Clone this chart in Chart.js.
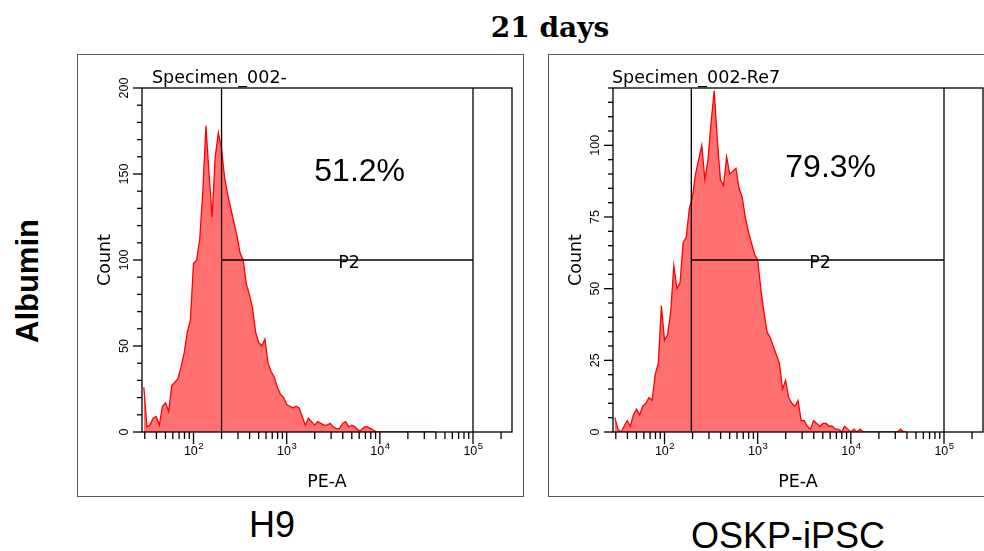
<!DOCTYPE html>
<html>
<head>
<meta charset="utf-8">
<script src="https://cdn.jsdelivr.net/npm/chart.js@4.4.1/dist/chart.umd.min.js"></script>
<style>
  body { margin:0; background:#fff; width:984px; height:551px; overflow:hidden; position:relative; font-family:"Liberation Sans", Arial, sans-serif; }
  .panel { position:absolute; top:54px; height:443px; border:1px solid #5a5a5a; box-sizing:border-box; }
  canvas { position:absolute; }
  .lbl { position:absolute; white-space:nowrap; line-height:1; color:#000; }
</style>
</head>
<body>
<div class="panel" style="left:77px; width:447px;"></div>
<div class="panel" style="left:548px; width:450px;"></div>
<canvas id="cH9" width="446" height="443" style="left:77px; top:54px;"></canvas>
<canvas id="cOskp" width="436" height="443" style="left:548px; top:54px;"></canvas>

<div class="lbl" style="left:400px; top:11px; width:300px; text-align:center; font:bold 28px 'DejaVu Serif', serif;">21 days</div>
<div class="lbl" style="left:28px; top:281px; font:bold 31px 'Liberation Sans', Arial, sans-serif; transform:translate(-50%,-50%) rotate(-90deg);">Albumin</div>
<div class="lbl" style="left:172px; top:504px; width:200px; text-align:center; font:36px 'Liberation Sans', Arial, sans-serif;">H9</div>
<div class="lbl" style="left:638px; top:515px; width:300px; text-align:center; font:36px 'Liberation Sans', Arial, sans-serif;">OSKP-iPSC</div>

<script>
// PE-A の各ビン中心 (対数軸, 1/30 decade 間隔)
const peaBins = [
  29.29, 31.62, 34.15, 36.87, 39.81, 42.99, 46.42, 50.12, 54.12, 58.43,
  63.10, 68.13, 73.56, 79.43, 85.77, 92.61, 100, 108.0, 116.6, 125.9,
  135.9, 146.8, 158.5, 171.1, 184.8, 199.5, 215.4, 232.6, 251.2, 271.2,
  292.9, 316.2, 341.5, 368.7, 398.1, 429.9, 464.2, 501.2, 541.2, 584.3,
  631.0, 681.3, 735.6, 794.3, 857.7, 926.1, 1000, 1080, 1166, 1259,
  1359, 1468, 1585, 1711, 1848, 1995, 2154, 2326, 2512, 2712,
  2929, 3162, 3415, 3687, 3981, 4299, 4642, 5012, 5412, 5843,
  6310, 6813, 7356, 7943, 8577, 9261, 10000, 10800, 11660, 12590,
  13590, 14680, 15850, 17110, 18480, 19950, 21540, 23260, 25120, 27120,
  29290, 31620, 34150, 36870, 39810
];

// H9 のカウント
const countsH9 = [
  26, 3, 4, 8, 9, 4, 15, 17, 12, 27,
  29, 31, 38, 46, 58, 65, 98, 100, 112, 140,
  178, 150, 125, 160, 174, 165, 148, 138, 130, 122,
  114, 104, 100, 86, 80, 72, 58, 52, 50, 54,
  40, 35, 32, 26, 22, 20, 16, 15, 14, 15,
  14, 9, 4, 8, 6, 4, 6, 5, 4, 4,
  5, 3, 2, 2, 5, 6, 3, 4, 3, 1,
  1, 3, 3, 2, 1, 0, 0, 0, 0, 0,
  0, 0, 0, 0, 0, 0, 0, 0, 0, 0,
  0, 0, 0, 0, 0
];

// OSKP-iPSC のカウント
const countsOskp = [
  5, 1, 0, 2, 4, 2, 6, 8, 6, 9,
  10, 12, 11, 20, 24, 44, 32, 34, 42, 58,
  50, 52, 66, 68, 78, 82, 90, 95, 100, 88,
  95, 108, 119, 102, 88, 86, 96, 90, 91, 92,
  85, 82, 75, 70, 66, 62, 60, 50, 42, 35,
  33, 30, 27, 24, 15, 18, 12, 10, 9, 11,
  4, 4, 2, 1, 4, 3, 2, 3, 3, 2,
  2, 1, 1, 0, 2, 1, 0, 1, 0, 1,
  0, 0, 0, 0, 0, 0, 0, 0, 0, 0,
  0, 0, 1, 0, 0
];

// 軸の目盛り
const xDecades = [100, 1000, 10000, 100000];
const xDecadeExp = ['2', '3', '4', '5'];
const yLabelsH9 = [0, 50, 100, 150, 200];
const yLabelsOskp = [0, 25, 50, 75, 100];

// ゲート P2 : [開始, 終了, 高さ]
const gateH9 = [200, 100000, 100];
const gateOskp = [194, 100000, 60];
const pctH9 = '51.2%';
const pctOskp = '79.3%';

function line(ctx, x0, y0, x1, y1) {
  ctx.beginPath();
  ctx.moveTo(x0, y0);
  ctx.lineTo(x1, y1);
  ctx.stroke();
}

// ゲート線・枠・目盛りを描くプラグイン
const flowDecor = {
  id: 'flowDecor',
  afterDatasetsDraw(chart, args, o) {
    const ctx = chart.ctx, a = chart.chartArea;
    const xs = chart.scales.x, ys = chart.scales.y;
    ctx.save();
    ctx.strokeStyle = '#000';
    ctx.fillStyle = '#000';
    ctx.lineWidth = 1.3;

    // gate
    const gx0 = xs.getPixelForValue(o.gate[0]);
    const gx1 = xs.getPixelForValue(o.gate[1]);
    const gy = ys.getPixelForValue(o.gate[2]);
    line(ctx, gx0, a.top, gx0, a.bottom);
    line(ctx, gx1, a.top, gx1, a.bottom);
    line(ctx, gx0, gy, gx1, gy);

    // frame
    ctx.strokeRect(a.left, a.top, a.right - a.left, a.bottom - a.top);

    // x ticks
    for (let d = 10; d <= 100000; d *= 10) {
      for (let m = 1; m <= 9; m++) {
        const v = d * m;
        if (v < xs.min || v > xs.max) continue;
        const px = xs.getPixelForValue(v);
        const major = xDecades.includes(v);
        line(ctx, px, a.bottom, px, a.bottom + (major ? 12 : 7));
      }
    }
    xDecades.forEach((v, i) => {
      const px = xs.getPixelForValue(v);
      ctx.font = '12.5px "Liberation Sans", Arial, sans-serif';
      const w1 = ctx.measureText('10').width;
      ctx.font = '9.5px "Liberation Sans", Arial, sans-serif';
      const w2 = ctx.measureText(xDecadeExp[i]).width;
      const x0 = px - (w1 + w2) / 2;
      ctx.textAlign = 'left';
      ctx.textBaseline = 'alphabetic';
      ctx.font = '12.5px "Liberation Sans", Arial, sans-serif';
      ctx.fillText('10', x0, a.bottom + 23);
      ctx.font = '9.5px "Liberation Sans", Arial, sans-serif';
      ctx.fillText(xDecadeExp[i], x0 + w1 + 0.5, a.bottom + 17);
    });

    // y ticks
    for (let v = 0; v <= ys.max + 0.01; v += o.yStep) {
      const py = ys.getPixelForValue(v);
      const major = o.yLabels.includes(v);
      line(ctx, a.left - (major ? 9 : 5), py, a.left, py);
    }
    ctx.font = '12.5px "Liberation Sans", Arial, sans-serif';
    ctx.textAlign = 'center';
    o.yLabels.forEach(v => {
      const py = ys.getPixelForValue(v);
      ctx.save();
      ctx.translate(a.left - 14, py);
      ctx.rotate(-Math.PI / 2);
      ctx.fillText(String(v), 0, 0);
      ctx.restore();
    });

    // texts
    ctx.font = '17.5px "DejaVu Sans", sans-serif';
    ctx.textAlign = 'left';
    ctx.fillText(o.title, a.left + o.titleDx, a.top - 5);
    ctx.textAlign = 'center';
    ctx.fillText('P2', xs.getPixelForValue(o.p2x), gy + 8);
    ctx.fillText('PE-A', (a.left + a.right) / 2, a.bottom + 55);
    ctx.save();
    ctx.translate(a.left - 32, (a.top + a.bottom) / 2);
    ctx.rotate(-Math.PI / 2);
    ctx.fillText('Count', 0, 0);
    ctx.restore();

    ctx.font = '32px "Liberation Sans", Arial, sans-serif';
    ctx.textAlign = 'left';
    ctx.fillText(o.pct, xs.getPixelForValue(o.pctAt[0]), ys.getPixelForValue(o.pctAt[1]));
    ctx.restore();
  }
};

function drawHist(id, counts, yMax, pad, deco) {
  const pts = [];
  for (let i = 0; i < peaBins.length; i++) {
    pts.push({ x: peaBins[i], y: counts[i] });
  }
  return new Chart(document.getElementById(id), {
    type: 'line',
    data: {
      datasets: [{
        data: pts,
        fill: 'origin',
        borderColor: '#ff0000',
        backgroundColor: 'rgba(255,0,0,0.56)',
        borderWidth: 1.3,
        tension: 0,
        pointRadius: 0
      }]
    },
    options: {
      responsive: false,
      animation: false,
      events: [],
      layout: { padding: pad },
      plugins: {
        legend: { display: false },
        tooltip: { enabled: false },
        flowDecor: deco
      },
      scales: {
        x: { type: 'logarithmic', min: 28, max: 262143, display: false },
        y: { type: 'linear', min: 0, max: yMax, display: false }
      }
    },
    plugins: [flowDecor]
  });
}

drawHist('cH9', countsH9, 200, { left: 65, top: 34, right: 11, bottom: 65 }, {
  gate: gateH9, yStep: 10, yLabels: yLabelsH9, title: 'Specimen_002-', titleDx: 10,
  p2x: 4670, pct: pctH9, pctAt: [1980, 146]
});
drawHist('cOskp', countsOskp, 120, { left: 65, top: 34, right: 1, bottom: 65 }, {
  gate: gateOskp, yStep: 5, yLabels: yLabelsOskp, title: 'Specimen_002-Re7', titleDx: -1,
  p2x: 4670, pct: pctOskp, pctAt: [1980, 89]
});
</script>
</body>
</html>
